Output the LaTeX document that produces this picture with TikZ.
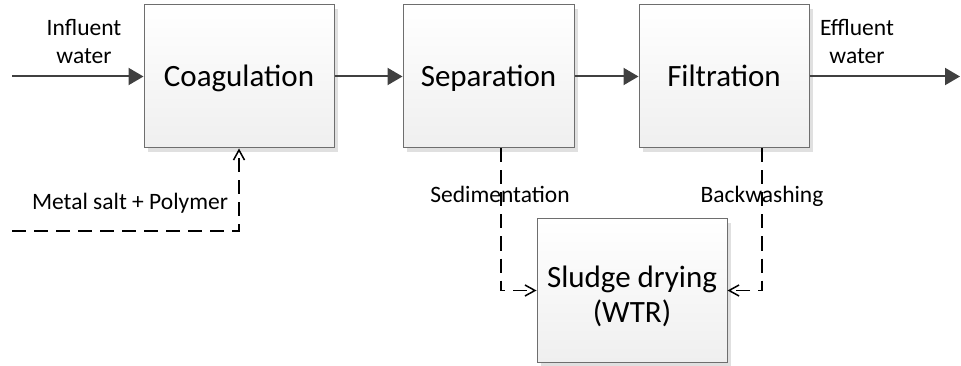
\documentclass[tikz,border=0pt]{standalone}
\usepackage{fontspec}
\setmainfont{Carlito}
\usetikzlibrary{arrows.meta,shadows,calc}
\definecolor{boxline}{HTML}{6E6E6E}
\definecolor{boxlow}{HTML}{EFEFEF}
\definecolor{shade}{HTML}{E0E0E0}
\definecolor{flow}{HTML}{404040}
\tikzset{
  unit/.style={draw=boxline, line width=1pt, top color=white, bottom color=boxlow,
    minimum height=143pt, inner sep=0pt,
    font=\fontsize{31}{35}\selectfont, text height=20pt, text depth=0pt,
    drop shadow={shadow xshift=4pt, shadow yshift=-4pt, fill=shade, opacity=1}},
  lbl/.style={font=\fontsize{23.5}{28}\selectfont, align=center, inner sep=0pt},
  onelbl/.style={lbl, text height=16pt, text depth=0pt},
  mainflow/.style={draw=flow, line width=2pt, -{Triangle[length=15pt,width=17pt]}},
  sideflow/.style={draw=black, line width=1.8pt, dash pattern=on 14pt off 8pt,
    -{Straight Barb[length=10pt,width=11pt,line width=1.5pt]}}
}
\begin{document}
\begin{tikzpicture}[x=1pt,y=-1pt]
\useasboundingbox (0,0) rectangle (961,366);

% process units
\node[unit, minimum width=190pt] (coag) at (239,76.5) {Coagulation};
\node[unit, minimum width=171pt] (sep) at (488.5,76.5) {Separation};
\node[unit, minimum width=170pt] (filt) at (724,76.5) {Filtration};
\node[unit, minimum width=190pt, align=center, text height=63pt] (sludge)
  at (632,290.5) {Sludge drying\\(WTR)};

% free ends and side-line positions
\coordinate (inflow) at (12,76.5);
\coordinate (outflow) at (960,76.5);
\coordinate (chem) at (12,231);
\coordinate (sedx) at (501,0);
\coordinate (bwx) at (762,0);

% main water line
\draw[mainflow] (inflow) -- (coag.west);
\draw[mainflow] (coag.east) -- (sep.west);
\draw[mainflow] (sep.east) -- (filt.west);
\draw[mainflow] (filt.east) -- (outflow);

% labels
\node[lbl] (inlbl) at (84,41) {Influent\\water};
\node[lbl] (outlbl) at (857,41) {Effluent\\water};
\node[onelbl] (chemlbl) at (130,201.3) {Metal salt + Polymer};
\node[onelbl] (sedlbl) at (500,194.7) {Sedimentation};
\node[onelbl] (bwlbl) at (762,194.7) {Backwashing};

% chemical dosing and sludge lines
\draw[sideflow] (chem) -| (coag.south);
\draw[sideflow] (sep.south -| sedx) |- (sludge.west);
\draw[sideflow] (filt.south -| bwx) |- (sludge.east);
\end{tikzpicture}
\end{document}
